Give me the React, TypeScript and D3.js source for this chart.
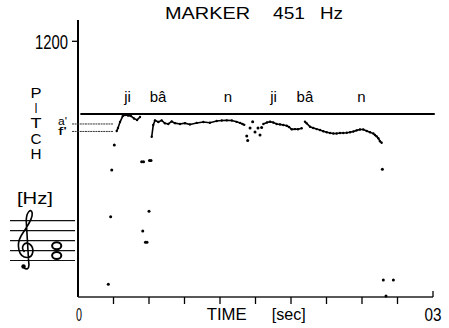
import React from "react";
import * as d3 from "d3";

// ---- data (time in sec, pitch in chart units) ----
const seg1Time = [0.0327, 0.0338, 0.0355, 0.0378, 0.0397, 0.0423, 0.0448, 0.0473, 0.0499, 0.0524];
const seg1Pitch = [779, 793, 821, 849, 854, 852, 849, 838, 831, 845];

const seg2Time = [0.0623, 0.0636, 0.0651, 0.0679, 0.0707, 0.0735, 0.0763, 0.0792, 0.082, 0.0862, 0.0904, 0.0946, 0.1003, 0.1059, 0.1115, 0.1172, 0.1215, 0.1257, 0.13, 0.134, 0.137, 0.139, 0.1405];
const seg2Pitch = [752, 807, 829, 821, 829, 815, 812, 824, 816, 812, 816, 810, 817, 821, 818, 826, 828, 829, 828, 822, 817, 812, 808];

const seg3aTime = [0.1566, 0.1597, 0.1623, 0.165, 0.1679, 0.1707, 0.1735, 0.1764, 0.1783, 0.1806, 0.1834, 0.1859, 0.189];
const seg3aPitch = [812, 819, 823, 819, 812, 810, 807, 804, 798, 787, 788, 787, 792];

const seg3bTime = [0.1918, 0.1933, 0.1961, 0.1988, 0.2017, 0.2045, 0.2073, 0.2102, 0.213, 0.2158, 0.2186, 0.2214, 0.2242, 0.2271, 0.2299, 0.2327, 0.2355, 0.2383, 0.2411, 0.244, 0.2468, 0.2496, 0.251, 0.2524, 0.2538, 0.2552, 0.2566];
const seg3bPitch = [823, 815, 799, 793, 788, 784, 778, 773, 770, 767, 767, 770, 770, 771, 773, 777, 782, 786, 786, 779, 773, 767, 760, 754, 745, 731, 724];

const scatterTime = [0.1426, 0.1434, 0.1454, 0.1476, 0.1496, 0.1521, 0.1538, 0.1552,
  0.0256, 0.0276, 0.0285, 0.0307, 0.0538, 0.0554, 0.0547, 0.057, 0.0583, 0.06, 0.0604, 0.0617, 0.2572, 0.258, 0.2665, 0.2603];
const scatterPitch = [756, 734, 793, 823, 774, 793, 760, 795,
  60, 377, 596, 713, 635, 635, 310, 257, 257, 402, 641, 641, 599, 80, 80, 5];

const syllables = ["ji", "bâ", "n", "ji", "bâ", "n"];
const syllableTime = [0.0418, 0.0676, 0.1268, 0.1652, 0.1918, 0.2396];

const markerPitch = 859;
const refLabels = ["a'", "f'"];
const refPitch = [812, 777];
const refEndTime = 0.0296;

const xTicks = [0.03, 0.06, 0.09, 0.12, 0.15, 0.18, 0.21, 0.24, 0.27];
const yTickValue = 1200;
const yTickLabel = "1200";
const axisLetters = ["P", "I", "T", "C", "H"];

const FONT = "'Liberation Sans', Arial, Helvetica, sans-serif";

export default function App() {
  const W = 449, H = 328;
  const x = d3.scaleLinear().domain([0, 0.3]).range([78, 433]);
  const y = d3.scaleLinear().domain([0, 1300]).range([297, 20]);
  const line = d3.line<[number, number]>().x((d) => x(d[0])).y((d) => y(d[1]));
  const segs = [
    [seg1Time, seg1Pitch],
    [seg2Time, seg2Pitch],
    [seg3aTime, seg3aPitch],
    [seg3bTime, seg3bPitch],
  ].map(([t, p]) => t.map((v, i) => [v, p[i]] as [number, number]));

  const staffY = [220.7, 230.7, 240.7, 250.7, 260.5];
  const letterY = [97.5, 112.5, 128, 143.5, 159];

  return (
    <svg width={W} height={H} style={{ position: "absolute", left: 0, top: 0, background: "#fff" }} fontFamily={FONT}>
      <rect width={W} height={H} fill="#fff" />
      {/* title */}
      <text x={165} y={18.5} fontSize={17} textLength={85} lengthAdjust="spacingAndGlyphs">MARKER</text>
      <text x={273} y={18.5} fontSize={17} textLength={32} lengthAdjust="spacingAndGlyphs">451</text>
      <text x={320} y={18.5} fontSize={17} textLength={23} lengthAdjust="spacingAndGlyphs">Hz</text>

      {/* y axis */}
      <line x1={x(0)} x2={x(0)} y1={20} y2={y(0)} stroke="#000" strokeWidth={2} />
      <line x1={x(0) - 6} x2={x(0)} y1={y(yTickValue)} y2={y(yTickValue)} stroke="#000" strokeWidth={1.3} />
      <text x={68} y={y(yTickValue) + 8} fontSize={21} textAnchor="end" textLength={33} lengthAdjust="spacingAndGlyphs">{yTickLabel}</text>

      {axisLetters.map((l, i) => (
        <text key={i} x={36} y={letterY[i]} fontSize={14} textAnchor="middle" textLength={l === "I" ? 3 : 11} lengthAdjust="spacingAndGlyphs">{l}</text>
      ))}

      {/* x axis */}
      <line x1={x(0)} x2={x(0.3)} y1={y(0)} y2={y(0)} stroke="#222" strokeWidth={1.3} />
      {xTicks.map((t) => (
        <line key={t} x1={x(t)} x2={x(t)} y1={y(0)} y2={y(0) + 7} stroke="#000" strokeWidth={1.3} />
      ))}
      <line x1={x(0.3)} x2={x(0.3)} y1={y(0) - 6} y2={y(0)} stroke="#000" strokeWidth={1.3} />
      <text x={x(0) + 1} y={321} fontSize={19} textAnchor="middle" textLength={6} lengthAdjust="spacingAndGlyphs">0</text>
      <text x={x(0.3)} y={321} fontSize={19} textAnchor="middle" textLength={17} lengthAdjust="spacingAndGlyphs">03</text>
      <text x={206.7} y={320} fontSize={17} textLength={40} lengthAdjust="spacingAndGlyphs">TIME</text>
      <text x={271.7} y={320} fontSize={17} textLength={34} lengthAdjust="spacingAndGlyphs">[sec]</text>

      {/* marker line */}
      <line x1={x(0.002)} x2={x(0.3015)} y1={y(markerPitch)} y2={y(markerPitch)} stroke="#000" strokeWidth={2} />

      {/* reference lines a', f' */}
      {refPitch.map((p, i) => (
        <g key={i}>
          <line x1={x(0) - 6} x2={x(refEndTime)} y1={y(p)} y2={y(p)} stroke="#333" strokeWidth={1} strokeDasharray="2 0.6" />
          <text x={58} y={y(p) + (i === 0 ? 1.5 : 4)} fontSize={10} textLength={9} lengthAdjust="spacingAndGlyphs">{refLabels[i]}</text>
        </g>
      ))}

      {/* syllables */}
      {syllables.map((s, i) => (
        <text key={i} x={x(syllableTime[i])} y={101.5} fontSize={15} textAnchor="middle">{s}</text>
      ))}

      {/* pitch contour */}
      {segs.map((s, i) => (
        <path key={i} d={line(s) || ""} fill="none" stroke="#000" strokeWidth={1.6} />
      ))}
      {segs.flat().map((d, i) => (
        <circle key={"c" + i} cx={x(d[0])} cy={y(d[1])} r={1.2} fill="#000" />
      ))}
      {scatterTime.map((t, i) => (
        <circle key={"s" + i} cx={x(t)} cy={y(scatterPitch[i])} r={1.5} fill="#000" />
      ))}

      {/* [Hz] and staff */}
      <text x={35} y={204} fontSize={16} textAnchor="middle" textLength={36} lengthAdjust="spacingAndGlyphs">[Hz]</text>
      {staffY.map((sy, i) => (
        <line key={i} x1={10} x2={75} y1={sy} y2={sy} stroke="#111" strokeWidth={1.2} />
      ))}
      <path
        d="M 24 268 C 29 271 29.5 266 28.6 261 L 26.3 222 C 25.8 213 31 207 32.2 213 C 33.2 220 25.5 228 21 236 C 16 245 18.5 257 27 257.5 C 33.5 257.5 35 248 29.5 244 C 24.5 241 20 247 24.5 252"
        fill="none" stroke="#000" strokeWidth={1.6}
      />
      <circle cx={23.5} cy={266.5} r={2.2} fill="#000" />
      {[245.7, 255.5].map((ny, i) => (
        <ellipse key={i} cx={56.7} cy={ny} rx={4.6} ry={3.5} fill="none" stroke="#000" strokeWidth={2} />
      ))}
    </svg>
  );
}
